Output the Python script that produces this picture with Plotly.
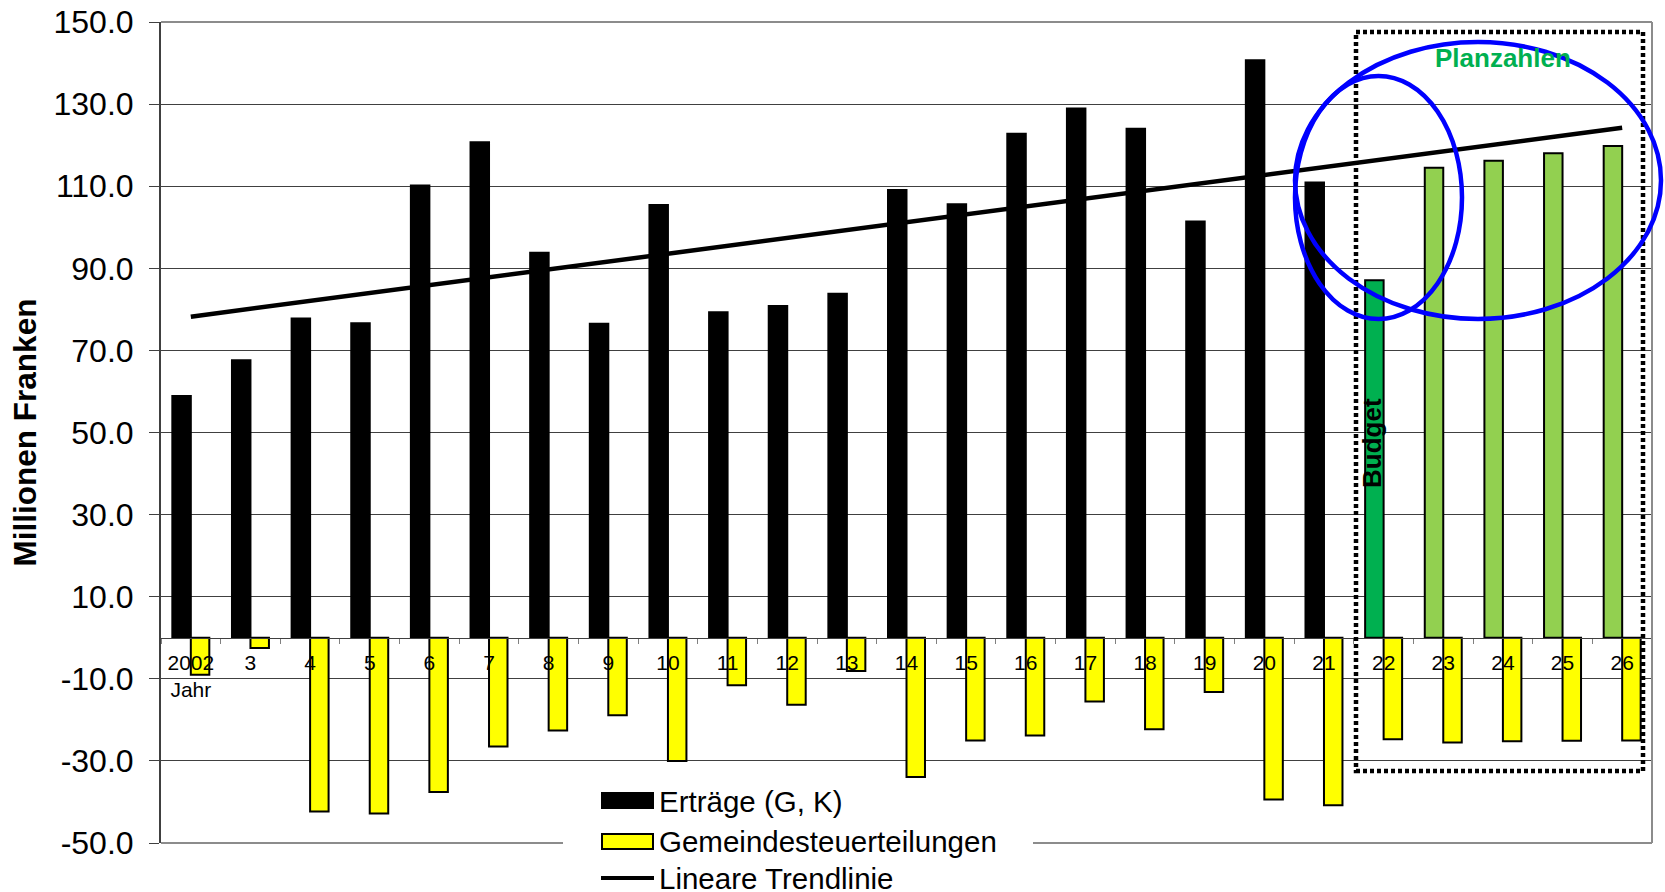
import numpy as np
import plotly.graph_objects as go

# Jahre (Achsenbeschriftung) und Werte in Millionen Franken
years = ["2002<br>Jahr", "3", "4", "5", "6", "7", "8", "9", "10", "11", "12", "13",
         "14", "15", "16", "17", "18", "19", "20", "21", "22", "23", "24", "25", "26"]
ertraege = [58.9, 67.6, 77.8, 76.6, 110.2, 120.7, 93.8, 76.5, 105.4, 79.3, 80.8, 83.8,
            109.1, 105.6, 122.8, 128.9, 124.0, 101.4, 140.7, 110.9, 87.1, 114.5, 116.2,
            118.0, 119.8]
gemeindesteuer = [-9.0, -2.5, -42.3, -42.8, -37.6, -26.5, -22.6, -18.9, -30.0, -11.6,
                  -16.3, -8.1, -33.9, -25.0, -23.8, -15.5, -22.3, -13.2, -39.4, -40.8,
                  -24.7, -25.5, -25.2, -25.1, -25.0]
y_ticks = [-50, -30, -10, 10, 30, 50, 70, 90, 110, 130, 150]
y_ticklabels = [f"{v:.1f}" for v in y_ticks]

n_actual = 20          # 2002 .. 2021: Rechnung
n_budget = 1           # 2022: Budget, danach Planzahlen
bar_colors = (["#000000"] * n_actual + ["#00B050"] * n_budget
              + ["#92D050"] * (len(ertraege) - n_actual - n_budget))

# Lineare Trendlinie der Erträge
idx = np.arange(len(ertraege))
coef = np.polyfit(idx, ertraege, 1)
trend = np.polyval(coef, idx)

W, H = 1665, 892
L, R, T, B = 161, 13, 22, 49
PW, PH = W - L - R, H - T - B


def px(xp):
    return (xp - L) / PW


def py(yp):
    return (H - B - yp) / PH


FONT = "Liberation Sans, Arial, sans-serif"

fig = go.Figure()
fig.add_trace(go.Bar(x=years, y=ertraege, name="Erträge (G, K)",
                     marker=dict(color=bar_colors, line=dict(color="black", width=2))))
fig.add_trace(go.Bar(x=years, y=gemeindesteuer, name="Gemeindesteuerteilungen",
                     marker=dict(color="#FFFF00", line=dict(color="black", width=2))))
fig.add_trace(go.Scatter(x=years, y=trend, mode="lines", name="Lineare Trendlinie",
                         line=dict(color="black", width=4.5)))

shapes = []
# Rahmen (oben, rechts, unten)
frame = dict(type="line", xref="x domain", yref="y domain", layer="above",
             line=dict(color="#8c8c8c", width=2))
shapes += [dict(frame, x0=0, x1=1, y0=1, y1=1),
           dict(frame, x0=1, x1=1, y0=0, y1=1),
           dict(frame, x0=0, x1=1, y0=0, y1=0)]
# Budget-/Planzahlen-Bereich
shapes.append(dict(type="rect", xref="paper", yref="paper", layer="above",
                   x0=px(1356), x1=px(1643), y0=py(771), y1=py(32),
                   line=dict(color="black", width=4.5, dash="4px,3px")))
# Markierungen
shapes.append(dict(type="circle", xref="paper", yref="paper", layer="above",
                   x0=px(1295), x1=px(1462), y0=py(319), y1=py(76),
                   line=dict(color="#0000FF", width=4.5)))
shapes.append(dict(type="circle", xref="paper", yref="paper", layer="above",
                   x0=px(1295), x1=px(1661), y0=py(319), y1=py(42),
                   line=dict(color="#0000FF", width=4.5)))
# Legende
shapes.append(dict(type="rect", xref="paper", yref="paper", layer="above",
                   x0=px(563), x1=px(1033), y0=py(905), y1=py(781),
                   fillcolor="white", line=dict(width=0)))
shapes.append(dict(type="rect", xref="paper", yref="paper", layer="above",
                   x0=px(601), x1=px(654), y0=py(809), y1=py(792),
                   fillcolor="black", line=dict(width=0)))
shapes.append(dict(type="rect", xref="paper", yref="paper", layer="above",
                   x0=px(602), x1=px(653), y0=py(849), y1=py(834),
                   fillcolor="#FFFF00", line=dict(color="black", width=2)))
shapes.append(dict(type="line", xref="paper", yref="paper", layer="above",
                   x0=px(601), x1=px(654), y0=py(878), y1=py(878),
                   line=dict(color="black", width=4)))

legend_items = [("Erträge (G, K)", 801), ("Gemeindesteuerteilungen", 841),
                ("Lineare Trendlinie", 878)]
annotations = [dict(text=t, xref="paper", yref="paper", x=px(657), y=py(yc),
                    xanchor="left", yanchor="middle", showarrow=False,
                    font=dict(family=FONT, size=29.5, color="black"))
               for t, yc in legend_items]
annotations.append(dict(text="Planzahlen", xref="paper", yref="paper",
                        x=px(1503), y=py(58), xanchor="center", yanchor="middle",
                        showarrow=False,
                        font=dict(family=FONT, size=26, color="#00B050", weight="bold")))
annotations.append(dict(text="Budget", xref="paper", yref="paper",
                        x=px(1372), y=py(443), xanchor="center", yanchor="middle",
                        textangle=-90, showarrow=False,
                        font=dict(family=FONT, size=26, color="black", weight="bold")))

fig.update_layout(
    width=W, height=H,
    margin=dict(l=L, r=R, t=T, b=B, autoexpand=False),
    plot_bgcolor="white", paper_bgcolor="white",
    barmode="group", bargap=0.38, bargroupgap=0,
    showlegend=False,
    font=dict(family=FONT, color="black"),
    shapes=shapes, annotations=annotations,
    xaxis=dict(type="category", anchor="free", position=0.25,
               range=[-0.5, len(years) - 0.5],
               showline=True, linecolor="#404040", linewidth=1,
               ticks="outside", ticklen=5, tickcolor="#808080", tickson="boundaries",
               ticklabelstandoff=6,
               tickfont=dict(size=21, family=FONT, color="black"),
               showgrid=False, zeroline=False),
    yaxis=dict(range=[-50, 150], tickvals=y_ticks, ticktext=y_ticklabels,
               showgrid=True, gridcolor="#404040", gridwidth=1, zeroline=False,
               showline=True, linecolor="#404040", linewidth=2,
               ticks="outside", ticklen=10, tickcolor="#404040",
               ticklabelstandoff=9,
               tickfont=dict(size=32, family=FONT, color="black"),
               title=dict(text="Millionen Franken", standoff=7,
                          font=dict(size=31.5, family=FONT, color="black", weight="bold"))),
)

fig.write_html("out.html")
